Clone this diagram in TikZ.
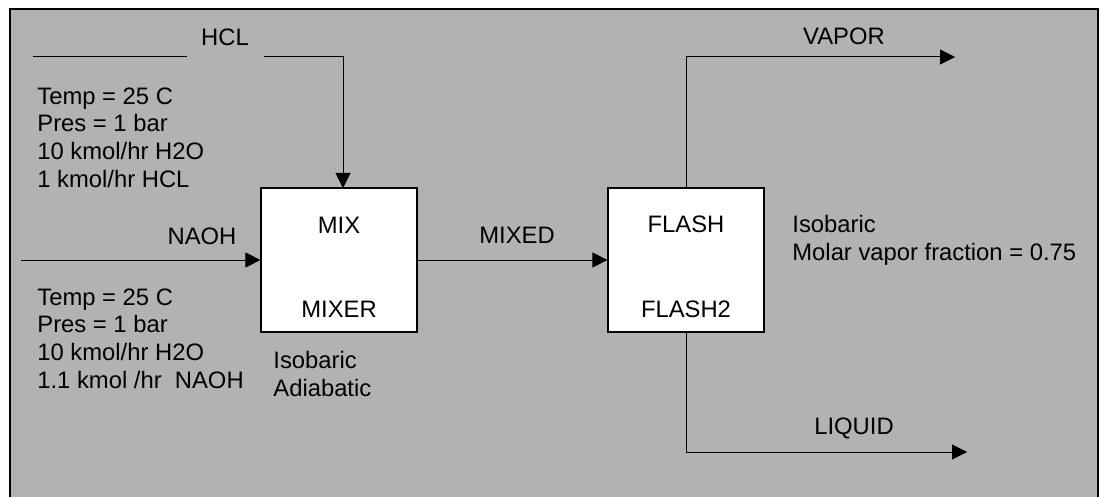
\documentclass[tikz,border=0pt]{standalone}
\usepackage{fontspec}
\setmainfont{Liberation Sans}
\usetikzlibrary{arrows.meta}
\definecolor{bggray}{RGB}{178,178,178}
\tikzset{
  unitbox/.style={draw=black, line width=0.6pt, fill=white, minimum width=78pt, minimum height=72pt, inner sep=0pt},
  lbl/.style={inner sep=0pt, anchor=base, font=\fontsize{11.9}{13.85}\selectfont},
  blocktxt/.style={inner sep=0pt, anchor=north west, align=left, font=\fontsize{11.9}{13.85}\selectfont},
  stream/.style={line width=0.5pt, draw=black},
  arr/.style={stream, -{Triangle[length=7.5pt,width=7.5pt]}}
}
\begin{document}
\begin{tikzpicture}[x=0.5pt, y=-0.5pt]
\useasboundingbox (0,0) rectangle (1101,497);
\fill[white] (0,0) rectangle (1101,497);
\draw[line width=0.8pt, fill=bggray] (10,9) rectangle (1098,520);

% unit operation blocks
\node[unitbox] (mix) at (339,260) {};
\node[unitbox] (flash) at (686,260) {};

\node[lbl] (mixname) at (339,234) {MIX};
\node[lbl] (mixtype) at (339,317) {MIXER};
\node[lbl] (flashname) at (686,232) {FLASH};
\node[lbl] (flashtype) at (686,317) {FLASH2};

% stream labels
\node[lbl] (hcllbl) at (225,46) {HCL};
\node[lbl] (naohlbl) at (202,244) {NAOH};
\node[lbl] (mixedlbl) at (517,243) {MIXED};
\node[lbl] (vaporlbl) at (844,45) {VAPOR};
\node[lbl] (liquidlbl) at (854,434) {LIQUID};

% specification blocks
\node[blocktxt] (hclspec) at (37,87) {Temp = 25 C\\Pres = 1 bar\\10 kmol/hr H2O\\1 kmol/hr HCL};
\node[blocktxt] (naohspec) at (37,288) {Temp = 25 C\\Pres = 1 bar\\10 kmol/hr H2O\\1.1 kmol /hr\ \ NAOH};
\node[blocktxt] (mixspec) at (273,351) {Isobaric\\Adiabatic};
\node[blocktxt] (flashspec) at (792,215) {Isobaric\\Molar vapor fraction = 0.75};

% stream endpoints
\coordinate (hclA) at (33,57);
\coordinate (hclB) at (187,57);
\coordinate (hclC) at (264,57);
\coordinate (hclin) at (343,188);
\coordinate (naohA) at (21,260);
\coordinate (vaporend) at (955,57);
\coordinate (liquidend) at (967,452);

% streams
\draw[stream] (hclA) -- (hclB);
\draw[arr] (hclC) -| (hclin);
\draw[arr] (naohA) -- (mix.west);
\draw[arr] (mix.east) -- (flash.west);
\draw[arr] (flash.north) |- (vaporend);
\draw[arr] (flash.south) |- (liquidend);
\end{tikzpicture}
\end{document}
